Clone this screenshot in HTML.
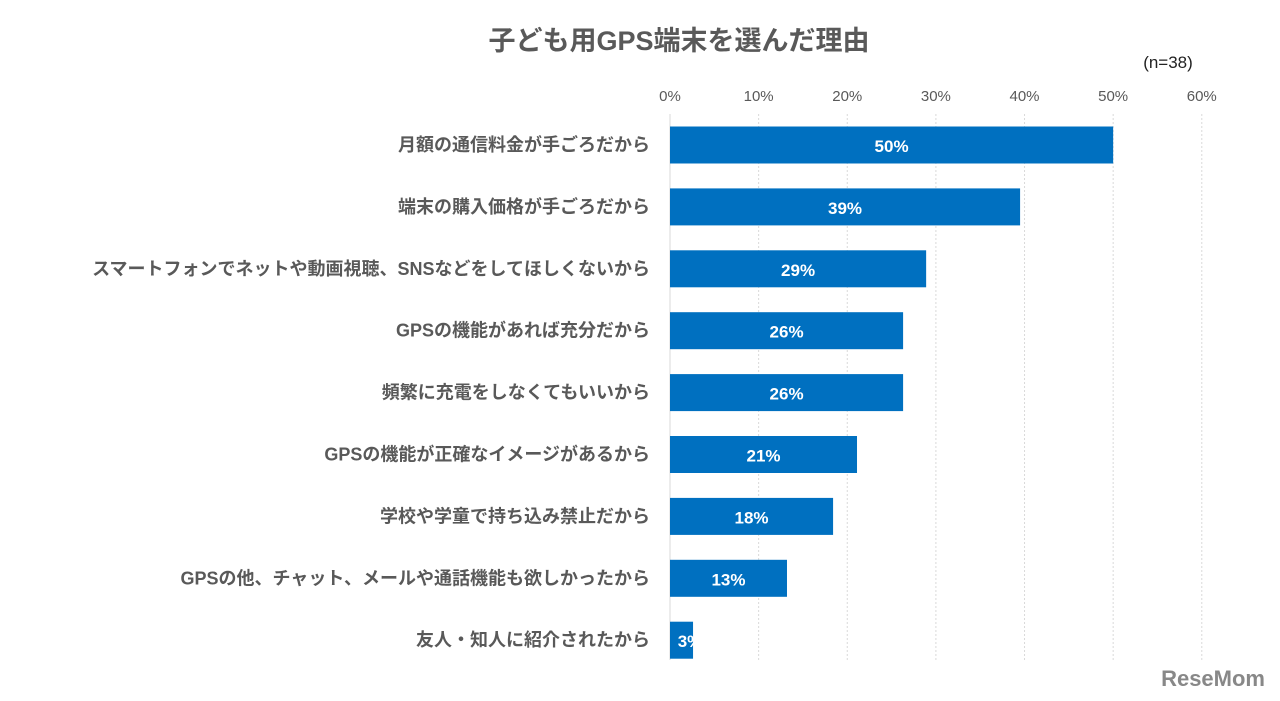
<!DOCTYPE html>
<html><head><meta charset="utf-8"><style>
body{margin:0;background:#fff;}
svg{display:block;font-family:"Liberation Sans","Noto Sans CJK JP",sans-serif;}
</style></head><body>
<svg id="c" width="1280" height="701">
<text x="679" y="50" text-anchor="middle" font-size="27" font-weight="bold" fill="#595959">子ども用GPS端末を選んだ理由</text>
<text x="1168" y="68" text-anchor="middle" font-size="17" fill="#222">(n=38)</text>
<g id="grid"></g><g id="bars"></g>
<text x="1265" y="686" text-anchor="end" font-size="22" font-weight="bold" fill="#888">ReseMom</text>
</svg>
<script>
const categories=["月額の通信料金が手ごろだから","端末の購入価格が手ごろだから","スマートフォンでネットや動画視聴、SNSなどをしてほしくないから","GPSの機能があれば充分だから","頻繁に充電をしなくてもいいから","GPSの機能が正確なイメージがあるから","学校や学童で持ち込み禁止だから","GPSの他、チャット、メールや通話機能も欲しかったから","友人・知人に紹介されたから"];
const values=[50,39.5,28.9,26.3,26.3,21.1,18.4,13.2,2.6];
const valueLabels=["50%","39%","29%","26%","26%","21%","18%","13%","3%"];
const ticks=[0,10,20,30,40,50,60];
const NS="http://www.w3.org/2000/svg";
const x0=670,pxPer=8.863,top0=114,step=61.9,bh=37;
const xs=v=>x0+v*pxPer, yc=i=>145+i*step;
const grid=document.getElementById('grid'),bars=document.getElementById('bars');
function mk(tag,attrs,p){const e=document.createElementNS(NS,tag);for(const k in attrs)e.setAttribute(k,attrs[k]);p.appendChild(e);return e;}
ticks.forEach((t,i)=>{
 const l=mk('line',{x1:xs(t),x2:xs(t),y1:top0,y2:660,stroke:'#d9d9d9','stroke-width':1,'stroke-dasharray':i?'2,2':'none'},grid);
 
 
 const tx=mk('text',{x:xs(t),y:101,'text-anchor':'middle','font-size':15,fill:'#595959'},grid);
 tx.textContent=t+'%';
 
 
});
categories.forEach((c,i)=>{
 const r=mk('rect',{x:x0,y:yc(i)-bh/2,width:xs(values[i])-x0,height:bh,fill:'#0070c0'},bars);
 
 
 const lb=mk('text',{x:650,y:yc(i)+6,'text-anchor':'end','font-size':18,'font-weight':'bold',fill:'#595959'},bars);
 lb.textContent=c;
 
 
 const w=xs(values[i])-x0;
 const vx=w<40?x0+20:x0+w/2;
 const vl=mk('text',{x:vx,y:yc(i)+7,'text-anchor':'middle','font-size':17,'font-weight':'bold',fill:'#fff'},bars);
 vl.textContent=valueLabels[i];
 
 
});
</script>
</body></html>
